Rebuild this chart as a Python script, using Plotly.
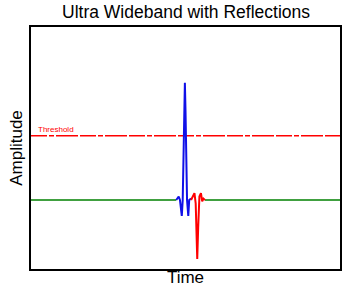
import plotly.graph_objects as go

# Data
green_x = [0, 47.0, None, 56.3, 100]
green_y = [0, 0, None, 0, 0]

blue_x = [47.0, 47.8, 48.2, 48.5, 48.8, 49.1, 49.4, 49.6, 49.8, 50.0, 50.2, 50.5, 50.9, 51.2, 51.8]
blue_y = [0, 0.05, 0.0, -0.1, -0.23, 0.0, 0.9, 1.35, 1.7, 1.3, 0.6, 0.0, -0.23, 0.0, 0.02]

red_x = [51.8, 52.3, 52.9, 53.3, 53.6, 53.8, 54.1, 54.5, 55.0, 55.4, 55.8, 56.3]
red_y = [0, 0.05, 0.1, -0.05, -0.5, -0.855, -0.4, 0.05, 0.1, -0.02, 0.02, 0]

threshold = 0.93
x_range = [0, 100]
y_range = [-1, 2.507]

fig = go.Figure()
fig.add_trace(go.Scatter(x=green_x, y=green_y, mode="lines",
                         line=dict(color="#008000", width=1.5), hoverinfo="skip"))
fig.add_trace(go.Scatter(x=x_range, y=[threshold, threshold], mode="lines",
                         line=dict(color="#ff0000", width=1.6,
                                   dash="16px,2px,5px,2px,22px,2px"),
                         hoverinfo="skip"))
fig.add_trace(go.Scatter(x=blue_x, y=blue_y, mode="lines",
                         line=dict(color="#1010e8", width=2), hoverinfo="skip"))
fig.add_trace(go.Scatter(x=red_x, y=red_y, mode="lines",
                         line=dict(color="#ff0000", width=2), hoverinfo="skip"))

fig.add_annotation(x=1.5, y=threshold, xref="x", yref="y", text="Threshold",
                   showarrow=False, xanchor="left", yanchor="bottom", yshift=0,
                   font=dict(family="Liberation Sans, Arial", size=8, color="#ff0000"))

fig.update_layout(
    width=351, height=295,
    margin=dict(l=31, r=9, t=27, b=26),
    paper_bgcolor="white", plot_bgcolor="white",
    showlegend=False,
    title=dict(text="Ultra Wideband with Reflections", x=0.53, xanchor="center",
               y=1 - 12/295, yanchor="middle",
               font=dict(family="Liberation Sans, Arial", size=17.5, color="#000000")),
    font=dict(family="Liberation Sans, Arial", color="#000000"),
)
fig.update_xaxes(range=x_range, showgrid=False, zeroline=False, showticklabels=False,
                 ticks="", showline=True, linecolor="black", linewidth=1.5, mirror=True,
                 title=dict(text="Time", font=dict(size=17), standoff=1))
fig.update_yaxes(range=y_range, showgrid=False, zeroline=False, showticklabels=False,
                 ticks="", showline=True, linecolor="black", linewidth=1.5, mirror=True,
                 title=dict(text="Amplitude", font=dict(size=17), standoff=2))

fig.write_html("out.html")
